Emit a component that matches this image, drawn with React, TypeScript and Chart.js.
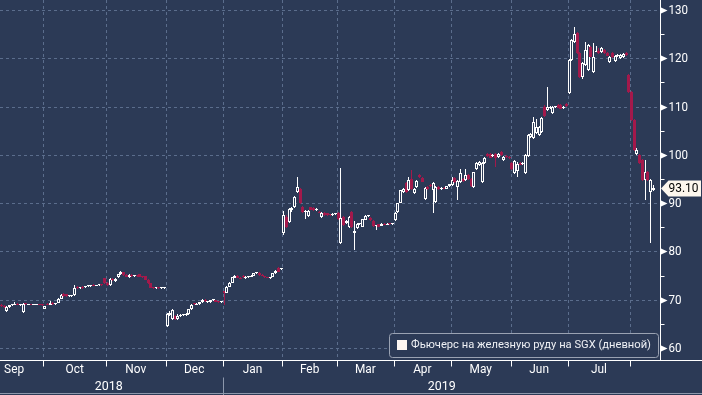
import React, { useEffect, useRef } from "react";
import { Chart, registerables } from "chart.js";

Chart.register(...registerables);

// [open, high, low, close]
type Candle = [number, number, number, number];

const sep2018: Candle[] = [
  [69.0, 69.1, 68.4, 68.6], [68.6, 68.9, 68.2, 68.4], [67.7, 68.6, 67.5, 68.4], [68.5, 69.0, 68.3, 68.9],
  [68.9, 69.1, 68.7, 69.0], [69.0, 69.6, 68.8, 69.1], [69.1, 69.3, 68.8, 68.9], [68.9, 69.1, 68.7, 68.9],
  [67.5, 69.4, 67.3, 69.2], [69.2, 69.4, 68.9, 69.1], [69.0, 69.2, 68.9, 69.0], [69.0, 69.1, 68.8, 68.9],
  [68.9, 69.1, 68.8, 69.0], [69.0, 69.2, 68.9, 69.1], [69.1, 69.2, 68.8, 68.9], [68.9, 69.0, 68.7, 68.8],
];
const oct2018: Candle[] = [
  [68.1, 68.7, 68.0, 68.6], [69.2, 69.3, 68.8, 68.9], [68.9, 69.8, 68.8, 69.3], [69.3, 69.5, 69.0, 69.2],
  [69.1, 69.4, 68.9, 69.3], [69.4, 70.3, 69.3, 70.2], [70.2, 71.1, 70.1, 71.0], [71.2, 71.4, 70.6, 70.8],
  [71.1, 71.2, 70.5, 70.7], [70.7, 70.9, 70.5, 70.8], [70.8, 71.0, 70.6, 70.9], [70.9, 73.0, 70.8, 72.5],
  [72.5, 72.8, 72.2, 72.4], [72.4, 72.7, 72.2, 72.6], [72.6, 72.8, 72.3, 72.5], [72.6, 72.9, 72.5, 72.8],
  [72.8, 73.0, 72.6, 72.9], [72.9, 73.1, 72.7, 73.0], [73.1, 73.2, 72.8, 72.9], [72.9, 73.1, 72.8, 73.0],
  [73.0, 73.2, 72.9, 73.1], [73.1, 73.3, 72.9, 73.0], [74.4, 74.5, 73.2, 73.4],
];
const nov2018: Candle[] = [
  [73.4, 73.6, 72.8, 73.0], [73.0, 74.5, 72.9, 74.3], [74.2, 74.4, 73.9, 74.0], [73.8, 74.4, 73.7, 74.3],
  [74.6, 75.4, 74.5, 75.3], [75.3, 75.9, 75.1, 75.7], [75.7, 75.8, 75.0, 75.1], [75.2, 75.4, 74.6, 74.8],
  [74.6, 75.4, 74.5, 75.2], [75.1, 75.3, 74.8, 75.0], [75.0, 75.2, 74.8, 75.1], [75.1, 75.2, 74.8, 74.9],
  [75.3, 75.4, 74.6, 74.7], [74.8, 75.0, 74.5, 74.6], [74.9, 75.0, 74.0, 74.1], [74.1, 74.2, 73.3, 73.4],
  [73.4, 73.5, 72.4, 72.5], [72.5, 72.6, 72.3, 72.4], [72.4, 72.6, 72.3, 72.5], [72.5, 72.6, 72.3, 72.4],
  [72.4, 72.6, 72.3, 72.4], [72.4, 72.5, 72.3, 72.4],
];
const dec2018: Candle[] = [
  [64.6, 67.2, 64.4, 67.0], [66.9, 67.6, 66.6, 67.2], [66.0, 68.0, 65.8, 67.8], [66.7, 66.9, 65.8, 66.0],
  [65.9, 67.0, 65.8, 66.7], [66.6, 67.0, 66.4, 66.8], [66.8, 67.1, 66.6, 66.9], [66.9, 67.2, 66.7, 67.0],
  [67.0, 68.1, 66.9, 68.0], [68.0, 69.1, 67.9, 69.0], [69.3, 69.4, 69.0, 69.1], [69.0, 69.3, 68.9, 69.1],
  [69.1, 69.6, 69.0, 69.5], [69.5, 70.1, 69.4, 70.0], [70.0, 70.1, 69.6, 69.7], [69.5, 69.7, 69.3, 69.5],
  [69.5, 70.0, 69.4, 69.9], [69.9, 70.1, 69.7, 69.9], [69.9, 70.0, 69.5, 69.6], [69.6, 69.8, 69.4, 69.5],
  [69.5, 69.7, 69.3, 69.6],
];
const jan2019: Candle[] = [
  [71.8, 71.9, 69.0, 71.4], [71.4, 72.8, 71.3, 72.7], [72.7, 73.6, 72.6, 73.5], [73.5, 74.8, 73.4, 74.7],
  [74.5, 75.1, 74.4, 75.0], [75.0, 75.2, 74.4, 74.5], [74.4, 74.6, 74.2, 74.3], [75.0, 75.2, 74.5, 74.6],
  [74.4, 74.9, 74.3, 74.8], [74.6, 74.9, 74.4, 74.7], [74.8, 75.1, 74.7, 74.9], [75.0, 75.6, 74.9, 75.5],
  [75.5, 75.7, 75.3, 75.6], [75.6, 75.7, 75.0, 75.1], [75.2, 75.3, 74.9, 75.0], [74.7, 74.8, 74.4, 74.6],
  [74.6, 74.8, 74.4, 74.5], [74.5, 74.7, 74.3, 74.6], [74.7, 75.6, 74.6, 75.5], [75.5, 76.1, 75.4, 76.0],
  [76.6, 76.8, 75.7, 75.8], [76.4, 76.6, 76.2, 76.5],
];
const feb2019: Candle[] = [
  [83.8, 88.4, 83.5, 87.5], [87.2, 87.5, 84.8, 85.0], [86.0, 89.0, 85.8, 88.8], [88.6, 89.3, 88.2, 89.0],
  [89.2, 91.5, 89.0, 91.3], [92.4, 95.4, 92.2, 93.4], [92.9, 93.1, 89.9, 90.1], [89.3, 89.5, 87.9, 88.1],
  [88.2, 88.6, 86.7, 88.4], [87.3, 88.5, 87.1, 88.4], [89.1, 89.3, 88.5, 88.6], [88.9, 89.1, 88.4, 88.6],
  [88.6, 88.9, 88.4, 88.7], [88.2, 88.4, 87.9, 88.0], [87.2, 88.1, 87.0, 88.0], [88.0, 88.1, 87.4, 87.5],
  [87.9, 88.0, 87.4, 87.5], [87.6, 87.8, 87.3, 87.5], [87.5, 87.9, 87.3, 87.7], [87.7, 88.0, 87.5, 87.8],
];
const mar2019: Candle[] = [
  [88.0, 88.2, 86.6, 86.8], [81.8, 97.3, 81.6, 87.0], [87.1, 87.4, 85.3, 85.5], [85.8, 86.6, 85.6, 86.3],
  [85.0, 87.4, 84.8, 87.2], [88.2, 88.4, 84.8, 85.0], [83.8, 86.3, 80.2, 84.2], [84.9, 85.8, 84.7, 85.7],
  [85.6, 85.9, 85.4, 85.7], [85.1, 86.8, 85.0, 86.7], [86.6, 87.5, 86.5, 87.4], [87.3, 87.6, 87.1, 87.4],
  [87.0, 87.2, 86.4, 86.5], [86.3, 86.5, 85.1, 85.2], [85.2, 85.5, 84.4, 85.4], [85.6, 85.7, 85.0, 85.1],
  [85.3, 85.8, 85.2, 85.6], [85.6, 85.8, 85.4, 85.5], [85.5, 85.8, 85.4, 85.7], [85.7, 85.9, 85.5, 85.6],
  [85.6, 85.8, 85.4, 85.7],
];
const apr2019: Candle[] = [
  [86.5, 88.1, 86.4, 88.0], [88.1, 90.1, 88.0, 90.0], [90.1, 92.8, 90.0, 92.7], [92.3, 93.2, 92.0, 93.0],
  [94.2, 94.4, 92.2, 92.4], [92.7, 95.4, 92.5, 94.8], [95.0, 96.9, 92.8, 93.0], [92.0, 93.1, 91.8, 93.0],
  [93.3, 94.7, 93.2, 94.6], [95.8, 96.0, 95.2, 95.4], [95.3, 95.5, 94.3, 94.4], [90.9, 93.3, 90.7, 93.2],
  [93.4, 93.5, 92.8, 93.0], [93.8, 94.0, 93.3, 93.5], [92.8, 94.3, 88.0, 94.1], [90.3, 93.5, 90.1, 93.4],
  [93.4, 93.5, 92.8, 93.0], [93.0, 93.3, 92.8, 93.1], [93.1, 93.3, 92.9, 93.0], [93.0, 93.6, 92.9, 93.5],
  [93.5, 94.0, 93.4, 93.9],
];
const may2019: Candle[] = [
  [93.8, 95.4, 93.6, 94.8], [95.2, 95.4, 94.2, 94.4], [93.4, 94.7, 90.7, 94.6], [94.4, 97.0, 94.2, 96.3],
  [95.0, 95.2, 94.3, 94.5], [94.7, 97.0, 94.5, 95.8], [95.8, 96.0, 94.8, 95.0], [95.0, 95.2, 93.4, 93.5],
  [93.4, 96.5, 93.2, 96.4], [97.0, 98.5, 96.8, 98.4], [97.8, 98.8, 97.6, 98.6], [94.3, 98.5, 94.1, 98.4],
  [98.4, 99.5, 98.2, 99.4], [100.1, 100.3, 99.6, 99.7], [100.2, 100.4, 99.3, 99.4], [99.8, 100.2, 99.6, 100.0],
  [100.2, 100.4, 97.5, 99.4], [99.6, 100.3, 99.4, 100.1], [100.5, 100.7, 99.8, 100.0], [99.0, 99.7, 98.8, 99.6],
  [99.8, 100.0, 99.4, 99.5], [99.5, 99.7, 99.2, 99.4],
];
const jun2019: Candle[] = [
  [98.4, 98.6, 96.9, 97.0], [96.3, 98.9, 96.0, 98.8], [96.6, 98.5, 95.4, 98.2], [98.3, 98.5, 97.9, 98.0],
  [98.2, 98.6, 98.0, 98.4], [96.3, 100.2, 96.1, 99.9], [99.7, 104.4, 99.5, 104.2], [103.6, 104.5, 103.4, 104.3],
  [103.5, 107.9, 103.3, 106.8], [104.5, 107.5, 104.3, 105.8], [104.2, 106.0, 104.0, 105.8], [104.8, 107.8, 104.6, 107.6],
  [110.0, 110.3, 107.9, 108.1], [109.3, 114.0, 109.1, 110.0], [109.8, 110.2, 109.5, 110.0], [108.7, 110.1, 108.5, 110.0],
  [109.9, 110.2, 109.6, 109.9], [110.3, 110.5, 109.6, 109.8], [110.4, 110.6, 109.4, 109.5], [109.7, 110.2, 109.5, 110.0],
  [110.6, 110.8, 109.9, 110.1],
];
const jul2019: Candle[] = [
  [112.9, 119.9, 112.7, 119.7], [119.6, 124.0, 119.4, 123.8], [123.4, 126.5, 123.2, 125.0], [125.3, 125.5, 120.9, 121.0],
  [121.0, 121.2, 116.0, 116.1], [116.2, 119.2, 115.8, 119.0], [118.6, 123.3, 118.4, 121.7], [117.6, 123.0, 117.4, 122.8],
  [122.3, 122.5, 120.2, 120.3], [117.2, 123.2, 117.0, 120.3], [121.4, 122.6, 121.2, 121.6], [121.6, 122.2, 120.9, 121.0],
  [121.2, 122.4, 121.0, 122.2], [121.7, 121.9, 120.9, 121.0], [121.1, 121.3, 120.4, 120.5], [119.3, 120.4, 119.1, 120.3],
  [121.0, 121.2, 120.1, 120.2], [119.5, 120.7, 119.3, 120.5], [120.4, 120.8, 120.2, 120.5], [120.0, 120.8, 119.8, 120.7],
  [120.3, 121.1, 120.1, 120.9], [121.0, 121.2, 120.4, 120.6], [116.5, 116.7, 112.9, 113.1],
];
const aug2019: Candle[] = [
  [113.1, 113.3, 107.0, 107.2], [107.2, 107.4, 100.8, 101.0], [100.2, 101.5, 99.9, 101.0], [100.0, 100.2, 98.2, 98.4],
  [98.9, 99.2, 94.6, 94.8], [94.8, 99.0, 90.7, 96.4], [96.4, 96.6, 94.6, 94.8], [92.3, 94.9, 81.8, 94.7],
  [92.7, 93.8, 92.6, 93.1],
];

const monthNames = ["Sep", "Oct", "Nov", "Dec", "Jan", "Feb", "Mar", "Apr", "May", "Jun", "Jul", "Aug"];
const monthYears = [2018, 2018, 2018, 2018, 2019, 2019, 2019, 2019, 2019, 2019, 2019, 2019];
const monthCandles = [sep2018, oct2018, nov2018, dec2018, jan2019, feb2019, mar2019, apr2019, may2019, jun2019, jul2019, aug2019];
const yearLabels = ["2018", "2019"];
const yMajorTicks = [60, 70, 80, 90, 100, 110, 120, 130];
const yMinorTicks = [65, 75, 85, 95, 105, 115, 125];
const seriesLabel = "Фьючерс на железную руду на SGX (дневной)";
const emptySlots = 2;

// ---- build table ----
const labels: string[] = [];
const candles: (Candle | null)[] = [];
const monthStarts: number[] = [];
monthCandles.forEach((arr, m) => {
  monthStarts.push(labels.length);
  arr.forEach((c, i) => {
    labels.push(`${monthNames[m]} ${monthYears[m]} #${i + 1}`);
    candles.push(c);
  });
});
for (let i = 0; i < emptySlots; i++) {
  labels.push(`pad ${i}`);
  candles.push(null);
}

const BG = "#2c3a56";
const GRID = "#5b6d8c";
const RED = "#a3194b";
const WHITE = "#ffffff";
const FONT = "Roboto, 'Noto Sans', 'DejaVu Sans', sans-serif";

function drawText(
  ctx: CanvasRenderingContext2D,
  s: string,
  x: number,
  y: number,
  size: number,
  color: string,
  align: CanvasTextAlign,
  targetWidth?: number,
  refText?: string
) {
  ctx.save();
  ctx.font = `${size}px ${FONT}`;
  let sx = 1;
  if (targetWidth) {
    const w = ctx.measureText(refText || s).width;
    if (w > 0) sx = targetWidth / w;
  }
  ctx.fillStyle = color;
  ctx.textAlign = align;
  ctx.textBaseline = "middle";
  ctx.translate(x, y);
  ctx.scale(sx, 1);
  ctx.fillText(s, 0, 0);
  ctx.restore();
}

const candlePlugin = {
  id: "candleDecor",
  beforeDraw(chart: any) {
    const ctx = chart.ctx as CanvasRenderingContext2D;
    ctx.save();
    ctx.fillStyle = BG;
    ctx.fillRect(0, 0, chart.width, chart.height);
    ctx.restore();
  },
  afterDatasetsUpdate(chart: any) {
    chart.data.datasets.forEach((ds: any, di: number) => {
      const meta = chart.getDatasetMeta(di);
      const w = ds.pixelWidth as number;
      meta.data.forEach((el: any) => {
        if (el == null || !isFinite(el.x) || !isFinite(el.y) || !isFinite(el.base)) return;
        const left = Math.round(el.x - w / 2);
        el.x = left + w / 2;
        el.width = w;
        let top = Math.round(Math.min(el.y, el.base));
        let bot = Math.round(Math.max(el.y, el.base));
        if (bot - top < 1) bot = top + 1;
        el.y = top;
        el.base = bot;
        el.height = bot - top;
      });
    });
  },
  beforeDatasetsDraw(chart: any) {
    const ctx = chart.ctx as CanvasRenderingContext2D;
    const { left, right, top, bottom } = chart.chartArea;
    const xs = chart.scales.x;
    const ys = chart.scales.y;
    ctx.save();
    ctx.strokeStyle = GRID;
    ctx.lineWidth = 1;
    ctx.setLineDash([3, 3]);
    yMajorTicks.forEach((v) => {
      const py = Math.round(ys.getPixelForValue(v)) + 0.5;
      ctx.beginPath();
      ctx.moveTo(left, py);
      ctx.lineTo(right, py);
      ctx.stroke();
    });
    monthStarts.slice(1).forEach((i) => {
      const px = Math.round((xs.getPixelForValue(i - 1) + xs.getPixelForValue(i)) / 2) + 0.5;
      ctx.beginPath();
      ctx.moveTo(px, top);
      ctx.lineTo(px, bottom);
      ctx.stroke();
    });
    ctx.restore();
  },
  afterDatasetsDraw(chart: any) {
    const ctx = chart.ctx as CanvasRenderingContext2D;
    const { left, right, top, bottom } = chart.chartArea;
    const xs = chart.scales.x;
    const ys = chart.scales.y;
    const W = chart.width;
    const H = chart.height;
    const ax = Math.round(right) + 0.5;

    ctx.save();
    // right axis line
    ctx.strokeStyle = WHITE;
    ctx.lineWidth = 1;
    ctx.beginPath();
    ctx.moveTo(ax, top);
    ctx.lineTo(ax, bottom);
    ctx.stroke();

    // minor ticks
    yMinorTicks.forEach((v) => {
      const py = Math.round(ys.getPixelForValue(v)) + 0.5;
      ctx.beginPath();
      ctx.moveTo(ax, py);
      ctx.lineTo(ax + 4, py);
      ctx.stroke();
    });
    // major ticks: triangles + labels
    yMajorTicks.forEach((v) => {
      const py = Math.round(ys.getPixelForValue(v)) + 0.5;
      ctx.fillStyle = WHITE;
      ctx.beginPath();
      ctx.moveTo(ax - 0.5, py - 3.5);
      ctx.lineTo(ax + 7, py);
      ctx.lineTo(ax - 0.5, py + 3.5);
      ctx.closePath();
      ctx.fill();
      drawText(ctx, String(v), ax + 8, py, 13, WHITE, "left", 19.5, "120");
    });

    // last price label
    const last = candles.filter((c) => c !== null).slice(-1)[0] as Candle;
    const lastVal = last[3];
    const lpy = Math.round(ys.getPixelForValue(lastVal)) + 0.5;
    ctx.fillStyle = "#fdf7ee";
    ctx.strokeStyle = "#d8d2c8";
    ctx.beginPath();
    ctx.moveTo(ax + 0.5, lpy);
    ctx.lineTo(ax + 8, lpy - 8);
    ctx.lineTo(W - 1, lpy - 8);
    ctx.lineTo(W - 1, lpy + 8);
    ctx.lineTo(ax + 8, lpy + 8);
    ctx.closePath();
    ctx.fill();
    drawText(ctx, lastVal.toFixed(2), ax + 8, lpy + 0.5, 13, "#000000", "left", 30);

    // x axis
    const by = Math.round(bottom) + 0.5;
    ctx.strokeStyle = WHITE;
    ctx.beginPath();
    ctx.moveTo(left, by);
    ctx.lineTo(W, by);
    ctx.stroke();

    const bounds = monthStarts.map((i) =>
      i === 0 ? NaN : (xs.getPixelForValue(i - 1) + xs.getPixelForValue(i)) / 2
    );
    const avgMonth = (bounds[bounds.length - 1] - bounds[1]) / (bounds.length - 2);
    bounds.slice(1).forEach((b) => {
      const px = Math.round(b) + 0.5;
      ctx.beginPath();
      ctx.moveTo(px, by);
      ctx.lineTo(px, by + 6);
      ctx.stroke();
    });
    for (let m = 0; m < monthNames.length - 1; m++) {
      const start = m === 0 ? bounds[1] - avgMonth : bounds[m];
      const end = bounds[m + 1];
      drawText(ctx, monthNames[m], (start + end) / 2, by + 9, 12.5, WHITE, "center", 20, "Sep");
    }
    // years
    const janIdx = monthYears.indexOf(2019);
    const yb = Math.round(bounds[janIdx]) + 0.5;
    drawText(ctx, yearLabels[0], (left + yb) / 2 - 3, by + 26, 12.5, WHITE, "center", 28, "2018");
    drawText(ctx, yearLabels[1], (yb + right) / 2, by + 26, 12.5, WHITE, "center", 28, "2018");
    ctx.strokeStyle = "#8c97ab";
    ctx.beginPath();
    ctx.moveTo(yb, by + 17);
    ctx.lineTo(yb, H);
    ctx.stroke();
    ctx.beginPath();
    ctx.moveTo(0, H - 1.5);
    ctx.lineTo(W, H - 1.5);
    ctx.stroke();

    // legend
    const lx = 389.5, ly = 333.5, lw = 269, lh = 24;
    ctx.fillStyle = BG;
    ctx.strokeStyle = "#9aa2b2";
    ctx.beginPath();
    (ctx as any).roundRect(lx, ly, lw, lh, 3);
    ctx.fill();
    ctx.stroke();
    ctx.fillStyle = "#fdf6f2";
    ctx.fillRect(397, 340, 10, 10);
    drawText(ctx, seriesLabel, 411, 345.5, 11.5, "#eef0f4", "left", 240);
    ctx.restore();
  },
};

export default function App() {
  const ref = useRef<HTMLCanvasElement | null>(null);
  useEffect(() => {
    const canvas = ref.current;
    if (!canvas) return;
    const up = candles.map((c) => (c ? c[3] >= c[0] : true));
    const chart = new Chart(canvas, {
      type: "bar",
      data: {
        labels,
        datasets: [
          {
            label: "body",
            data: candles.map((c) => (c ? [Math.min(c[0], c[3]), Math.max(c[0], c[3])] : null)) as any,
            backgroundColor: up.map((u) => (u ? BG : RED)),
            borderColor: up.map((u) => (u ? WHITE : RED)),
            borderWidth: 1,
            borderSkipped: false,
            minBarLength: 1,
            grouped: false,
            order: 1,
            pixelWidth: 3,
          } as any,
          {
            label: "wick",
            data: candles.map((c) => (c ? [c[2], c[1]] : null)) as any,
            backgroundColor: up.map((u) => (u ? WHITE : RED)),
            borderWidth: 0,
            grouped: false,
            order: 2,
            pixelWidth: 1,
          } as any,
        ],
      },
      options: {
        responsive: false,
        maintainAspectRatio: false,
        animation: false,
        devicePixelRatio: 1,
        events: [],
        layout: { padding: { left: 0, top: 0, right: 42, bottom: 35 } },
        plugins: { legend: { display: false }, tooltip: { enabled: false } },
        scales: {
          x: { type: "category", display: false, offset: true },
          y: { type: "linear", display: false, min: 57.51, max: 132.07 },
        },
      },
      plugins: [candlePlugin],
    });
    return () => chart.destroy();
  }, []);
  return (
    <div style={{ position: "fixed", left: 0, top: 0, width: 702, height: 395, background: BG }}>
      <canvas ref={ref} width={702} height={395} style={{ display: "block", width: 702, height: 395 }} />
    </div>
  );
}
